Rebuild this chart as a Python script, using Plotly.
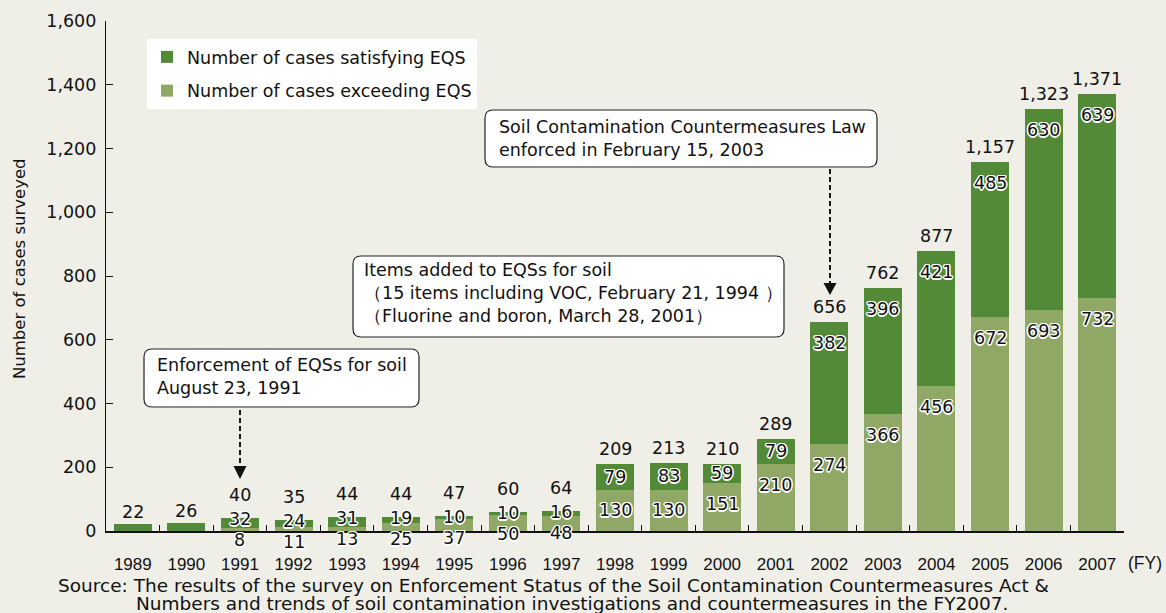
import plotly.graph_objects as go

# ---------------- data ----------------
years = [str(y) for y in range(1989, 2008)]
satisfying = [22, 26, 32, 24, 31, 19, 10, 10, 16, 79, 83, 59, 79, 382, 396, 421, 485, 630, 639]
exceeding = [None, None, 8, 11, 13, 25, 37, 50, 48, 130, 130, 151, 210, 274, 366, 456, 672, 693, 732]
totals = [22, 26, 40, 35, 44, 44, 47, 60, 64, 209, 213, 210, 289, 656, 762, 877, 1157, 1323, 1371]

y_ticks = list(range(0, 1601, 200))
y_tick_text = [f"{v:,}" for v in y_ticks]

legend_names = ["Number of cases satisfying EQS", "Number of cases exceeding EQS"]
y_title = "Number of cases surveyed"
fy_label = "(FY)"
callout_1 = "Enforcement of EQSs for soil<br>August 23, 1991"
callout_2 = ("Items added to EQSs for soil<br>（15 items including VOC, February 21, 1994 ）"
             "<br>（Fluorine and boron, March 28, 2001）")
callout_3 = "Soil Contamination Countermeasures Law<br>enforced in February 15, 2003"
source_1 = "Source: The results of the survey on Enforcement Status of the Soil Contamination Countermeasures Act &"
source_2 = "Numbers and trends of soil contamination investigations and countermeasures in the FY2007."

# ---------------- style ----------------
W, H = 1166, 613
ML, MR, MT, MB = 106, 42, 21, 82
PW, PH = W - ML - MR, H - MT - MB
YMAX = 1600
PX = PH / YMAX

BG = "#EFEFE8"
DARK = "#528A37"
LIGHT = "#8FA866"
NUM_FONT = "DejaVu Sans"
TXT_FONT = "DejaVu Sans"
OUTLINE = ("1px 1px 0 #fff, -1px -1px 0 #fff, 1px -1px 0 #fff, -1px 1px 0 #fff, "
           "0 1.5px 0 #fff, 1.5px 0 0 #fff, 0 -1.5px 0 #fff, -1.5px 0 0 #fff")


def px_x(p):
    return (p - ML) / PW


def px_y(p):
    return (H - MB - p) / PH


fig = go.Figure()
fig.add_trace(go.Bar(x=years, y=exceeding, name=legend_names[1], marker_color=LIGHT,
                     marker_line_width=0, legendgroup="b", legendrank=2, hoverinfo="x+y"))
fig.add_trace(go.Bar(x=years, y=satisfying, name=legend_names[0], marker_color=DARK,
                     marker_line_width=0, legendgroup="a", legendrank=1, hoverinfo="x+y"))

ann = []
for i, yr in enumerate(years):
    tot, sat, exc = totals[i], satisfying[i], exceeding[i]
    plain = dict(x=i, xref="x", yref="y", showarrow=False, yanchor="middle",
                 font=dict(family=NUM_FONT, size=17.5, color="#111"))
    outl = dict(x=i, xref="x", yref="y", showarrow=False, yanchor="middle",
                font=dict(family=NUM_FONT, size=17.5, color="#111", shadow=OUTLINE))
    if exc is None:
        ann.append(dict(plain, y=tot, text=f"{tot:,}", yshift=12))
    elif tot < 100:
        ann.append(dict(plain, y=tot, text=f"{tot:,}", yshift=23))
        ann.append(dict(outl, y=tot, text=f"{sat:,}", yshift=-1))
        ann.append(dict(outl, y=tot, text=f"{exc:,}", yshift=-22))
    else:
        ann.append(dict(plain, y=tot, text=f"{tot:,}", yshift=15))
        ann.append(dict(outl, y=tot, text=f"{sat:,}", yshift=-min(21, sat * PX / 2)))
        ann.append(dict(outl, y=exc, text=f"{exc:,}", yshift=-min(21, exc * PX / 2)))

# callout boxes
shapes = []


def rbox(x0, y0, x1, y1, r=8):
    a0, a1 = px_x(x0), px_x(x1)
    b_top, b_bot = px_y(y0), px_y(y1)
    rx, ry = r / PW, r / PH
    path = (f"M{a0+rx},{b_top} L{a1-rx},{b_top} Q{a1},{b_top} {a1},{b_top-ry} "
            f"L{a1},{b_bot+ry} Q{a1},{b_bot} {a1-rx},{b_bot} L{a0+rx},{b_bot} "
            f"Q{a0},{b_bot} {a0},{b_bot+ry} L{a0},{b_top-ry} Q{a0},{b_top} {a0+rx},{b_top} Z")
    shapes.append(dict(type="path", xref="paper", yref="paper", path=path,
                       fillcolor="white", line=dict(color="#222", width=1.2), layer="above"))


def arrow(xp, y_start, y_head, y_tip, hw=6.5):
    shapes.append(dict(type="line", xref="paper", yref="paper", x0=px_x(xp), x1=px_x(xp),
                       y0=px_y(y_start), y1=px_y(y_head),
                       line=dict(color="#111", width=2, dash="5px,3px"), layer="above"))
    path = (f"M{px_x(xp-hw)},{px_y(y_head)} L{px_x(xp+hw)},{px_y(y_head)} "
            f"L{px_x(xp)},{px_y(y_tip)} Z")
    shapes.append(dict(type="path", xref="paper", yref="paper", path=path,
                       fillcolor="#111", line=dict(width=0), layer="above"))


rbox(144, 349, 419, 407)
rbox(353, 256, 784, 337)
rbox(485, 110, 877, 167)
arrow(240, 410, 466, 479)
arrow(830, 169, 283, 295)

box_font = dict(family=TXT_FONT, size=17.5, color="#111")
for txt, xl, yc in [(callout_1, 155, 376), (callout_2, 362, 293), (callout_3, 497, 139)]:
    ann.append(dict(text=txt, xref="paper", yref="paper", x=px_x(xl), y=px_y(yc),
                    xanchor="left", yanchor="middle", align="left", showarrow=False,
                    font=box_font))

# source lines
src_font = dict(family=TXT_FONT, size=18.5, color="#111")
ann.append(dict(text=source_1, xref="paper", yref="paper", x=px_x(56), y=px_y(585),
                xanchor="left", yanchor="middle", showarrow=False, font=src_font))
ann.append(dict(text=source_2, xref="paper", yref="paper", x=px_x(134), y=px_y(603),
                xanchor="left", yanchor="middle", showarrow=False, font=src_font))

# axis title and FY
ann.append(dict(text=y_title, xref="paper", yref="paper", x=px_x(19), y=px_y(269),
                xanchor="center", yanchor="middle", textangle=-90, showarrow=False,
                font=dict(family=TXT_FONT, size=16.5, color="#111")))
ann.append(dict(text=fy_label, xref="paper", yref="paper", x=px_x(1145), y=px_y(563),
                xanchor="center", yanchor="middle", showarrow=False,
                font=dict(family="Liberation Sans", size=17.5, color="#111")))

fig.update_layout(
    width=W, height=H,
    margin=dict(l=ML, r=MR, t=MT, b=MB, pad=0),
    paper_bgcolor=BG, plot_bgcolor=BG,
    barmode="stack", bargap=0.29,
    font=dict(family=TXT_FONT, color="#111"),
    showlegend=True,
    legend=dict(x=px_x(147), y=px_y(39), xanchor="left", yanchor="top",
                bgcolor="white", borderwidth=0, traceorder="grouped",
                tracegroupgap=8, font=dict(family=TXT_FONT, size=17.5, color="#111"),
                itemclick=False, itemdoubleclick=False),
    annotations=ann,
    shapes=shapes,
    xaxis=dict(type="category", range=[-0.5, 18.5], showline=True, linecolor="#111",
               linewidth=1.5, ticks="inside", tickson="boundaries", ticklen=6,
               tickcolor="#111", tickwidth=1, showgrid=False, zeroline=False,
               tickfont=dict(family="Liberation Sans", size=17, color="#111"),
               ticklabelstandoff=17),
    yaxis=dict(range=[0, YMAX], tickvals=y_ticks, ticktext=y_tick_text, showline=True,
               linecolor="#111", linewidth=1.2, ticks="inside", ticklen=7,
               tickcolor="#111", showgrid=False, zeroline=False,
               tickfont=dict(family=NUM_FONT, size=17.5, color="#111"),
               ticklabelstandoff=5),
)

fig.write_html("out.html", config={"displayModeBar": False},
               post_script="document.body.style.margin='0';document.body.style.overflow='hidden';")
